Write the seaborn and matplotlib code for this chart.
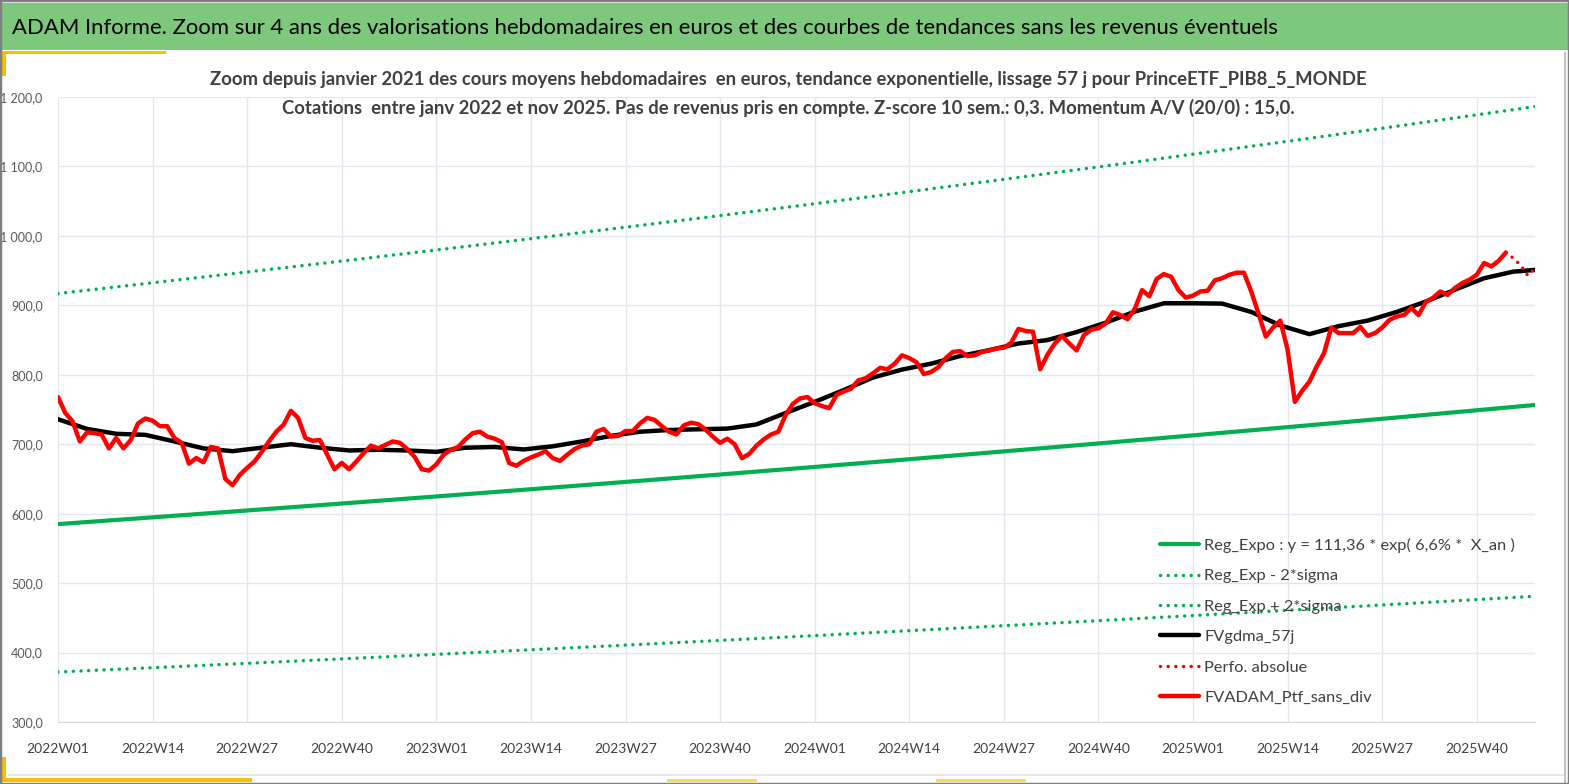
import numpy as np
import pandas as pd
import seaborn as sns
import matplotlib.pyplot as plt
from matplotlib.patches import Rectangle

# weekly categories, 2022W01 .. 2025W48
weeks = [f"{y}W{w:02d}" for y in (2022, 2023, 2024, 2025) for w in range(1, 53)][:204]

# FVADAM_Ptf_sans_div, weekly mean price (EUR), 2022W01 .. 2025W44
fv_adam = [
    768, 745, 733, 704, 717, 716, 714, 694, 709, 694,
    706, 730, 737, 734, 726, 726, 709, 702, 672, 680,
    674, 696, 694, 650, 641, 656, 666, 675, 689, 704,
    718, 728, 748, 738, 709, 705, 706, 685, 664, 673,
    664, 675, 687, 698, 694, 699, 704, 702, 693, 682,
    664, 662, 671, 685, 692, 696, 707, 716, 718, 711,
    708, 703, 673, 669, 676, 681, 685, 690, 680, 676,
    685, 693, 698, 700, 718, 722, 711, 712, 719, 719,
    730, 738, 735, 726, 718, 714, 727, 731, 729, 721,
    711, 702, 708, 700, 680, 686, 698, 707, 714, 718,
    742, 758, 766, 768, 759, 755, 752, 771, 776, 780,
    792, 795, 802, 810, 808, 816, 828, 824, 818, 801,
    804, 811, 824, 833, 834, 827, 828, 833, 835, 838,
    839, 846, 866, 863, 862, 808, 829, 845, 856, 845,
    835, 857, 865, 867, 874, 890, 886, 880, 895, 922,
    913, 938, 945, 941, 922, 911, 914, 920, 921, 936,
    939, 944, 947, 947, 920, 888, 855, 868, 878, 836,
    761, 777, 790, 812, 831, 868, 860, 860, 860, 869,
    856, 860, 868, 879, 884, 886, 896, 886, 905, 911,
    920, 915, 925, 932, 937, 944, 961, 956, 964, 976,
]
# Perfo. absolue, last weeks (dotted)
perfo_weeks = ["2025W44", "2025W45", "2025W46", "2025W47", "2025W48"]
perfo = [976, 968, 958, 943, 953]

# FVgdma_57j, read every 4 weeks + last week
gdma_weeks = weeks[::4] + [weeks[-1]]
gdma = [
    736, 722, 715, 713.5, 704, 694, 690, 695, 700, 695,
    691, 692, 691, 689, 695, 696, 692.5, 697, 704, 712,
    718, 720.5, 721.5, 722.5, 728.5, 745, 761, 778, 796, 807.5,
    816, 827, 835.5, 845, 850, 861.5, 875, 891, 903, 903,
    902.5, 890.5, 871, 858.5, 870, 878, 890.5, 905.5, 922.5, 939,
    948.5, 951,
]

# exponential regression and +/- 2 sigma bands, read every 13 weeks + last week
trend_weeks = weeks[::13] + [weeks[-1]]
reg_expo = [585, 594.7, 604.6, 614.6, 624.8, 635.2, 645.7, 656.4, 667.3,
            678.4, 689.7, 701.1, 712.8, 724.6, 736.6, 748.9, 756.5]
reg_minus = [372, 378.2, 384.5, 390.9, 397.4, 404, 410.7, 417.5, 424.4,
             431.5, 438.7, 445.9, 453.3, 460.9, 468.5, 476.3, 481.1]
reg_plus = [917, 932.5, 948, 963.7, 979.7, 996, 1012.5, 1029.2, 1046.3,
            1063.7, 1081.5, 1099.3, 1117.7, 1136.2, 1155, 1174.3, 1186.2]

tick_labels = weeks[::13]
y_ticks = [300, 400, 500, 600, 700, 800, 900, 1000, 1100, 1200]

title = ("ADAM Informe. Zoom sur 4 ans des valorisations hebdomadaires en euros "
         "et des courbes de tendances sans les revenus éventuels")
subtitle1 = ("Zoom depuis janvier 2021 des cours moyens hebdomadaires  en euros, "
             "tendance exponentielle, lissage 57 j pour PrinceETF_PIB8_5_MONDE")
subtitle2 = ("Cotations  entre janv 2022 et nov 2025. Pas de revenus pris en compte. "
             "Z-score 10 sem.: 0,3. Momentum A/V (20/0) : 15,0.")


def frame(labels, values):
    return pd.DataFrame({"pos": [weeks.index(w) for w in labels], "value": values})


sns.set_style("white")
plt.rcParams['font.family'] = ['Lato', 'DejaVu Sans']

GREEN = "#00B050"
RED = "#FF0000"
TXT = "#404040"
dots = (0, (0.01, 2.2))

fig = plt.figure(figsize=(15.69, 7.84), dpi=100)
ax = fig.add_axes([58 / 1569, 1 - 722 / 784, (1535 - 58) / 1569, (722 - 97) / 784])

sns.lineplot(data=frame(trend_weeks, reg_expo), x="pos", y="value", ax=ax,
             color=GREEN, lw=3.0, label="Reg_Expo : y = 111,36 * exp( 6,6% *  X_an )")
sns.lineplot(data=frame(trend_weeks, reg_minus), x="pos", y="value", ax=ax,
             color=GREEN, lw=2.5, linestyle=dots, dash_capstyle="round",
             label="Reg_Exp - 2*sigma")
sns.lineplot(data=frame(trend_weeks, reg_plus), x="pos", y="value", ax=ax,
             color=GREEN, lw=2.5, linestyle=dots, dash_capstyle="round",
             label="Reg_Exp + 2*sigma")
sns.lineplot(data=frame(gdma_weeks, gdma), x="pos", y="value", ax=ax,
             color="black", lw=3.2, label="FVgdma_57j")
sns.lineplot(data=frame(perfo_weeks, perfo), x="pos", y="value", ax=ax,
             color=RED, lw=2.5, linestyle=dots, dash_capstyle="round",
             label="Perfo. absolue")
sns.lineplot(data=frame(weeks[:len(fv_adam)], fv_adam), x="pos", y="value", ax=ax,
             color=RED, lw=3.2, label="FVADAM_Ptf_sans_div")

ax.set_xlim(0, len(weeks) - 1)
ax.set_ylim(300, 1200)
ax.set_xticks([weeks.index(w) for w in tick_labels])
ax.set_xticklabels(tick_labels)
ax.set_xticks([weeks.index(w) + 6.5 for w in tick_labels], minor=True)
ax.set_yticks(y_ticks)
ax.set_yticklabels([f"{v:,.1f}".replace(",", " ").replace(".", ",") for v in y_ticks])
ax.set_xlabel("")
ax.set_ylabel("")
ax.grid(True, color="#E3E6EC", lw=1.0)
ax.set_axisbelow(True)
for side in ["top", "right", "left"]:
    ax.spines[side].set_visible(False)
ax.spines["bottom"].set_color("#D9D9D9")
ax.tick_params(axis="y", length=0, pad=11, labelsize=9, labelcolor="#595959")
ax.tick_params(axis="x", which="major", length=0, pad=15, labelsize=10, labelcolor=TXT)
ax.tick_params(axis="x", which="minor", direction="in", length=4, color="#D9D9D9")

ax.legend(loc="upper left", bbox_to_anchor=(1160 / 1569, 1 - 538 / 784),
          bbox_transform=fig.transFigure, frameon=False, fontsize=11.8,
          labelcolor=TXT, handlelength=2.4, handletextpad=0.3,
          labelspacing=0.97, borderpad=0, borderaxespad=0)

# frame decorations
W, H = 1569, 784
def box(x0, y0, x1, y1, color, **kw):
    fig.add_artist(Rectangle((x0 / W, 1 - y1 / H), (x1 - x0) / W, (y1 - y0) / H,
                             transform=fig.transFigure, facecolor=color,
                             edgecolor="none", **kw))

box(0, 3, W, 50, "#7DC87D")
box(2, 51, 166, 54, "#F5C000")
box(2, 51, 6, 76, "#F5C000")
box(2, 757, 6, 782, "#F5C000")
box(2, 778, 252, 782, "#F5C000")
box(667, 779, 757, 782, "#F5E04A")
box(936, 779, 1026, 782, "#F5E04A")
box(8, 774, 1565, 775.5, "#E6E6E6")
box(1564, 52, 1566, 784, "#BFBFBF")
fig.add_artist(Rectangle((0, 0), 1, 1, transform=fig.transFigure, facecolor="none",
                         edgecolor="#7F7F7F", lw=2.5))

fig.text(12 / W, 1 - 28 / H, title, fontsize=15.9, color="black", va="center", ha="left")
fig.text(788 / W, 1 - 80 / H, subtitle1, fontsize=13.3, fontweight="bold",
         color=TXT, ha="center", va="center")
fig.text(788 / W, 1 - 108 / H, subtitle2, fontsize=13.3, fontweight="bold",
         color=TXT, ha="center", va="center")

fig.savefig("out.png", dpi=100)
